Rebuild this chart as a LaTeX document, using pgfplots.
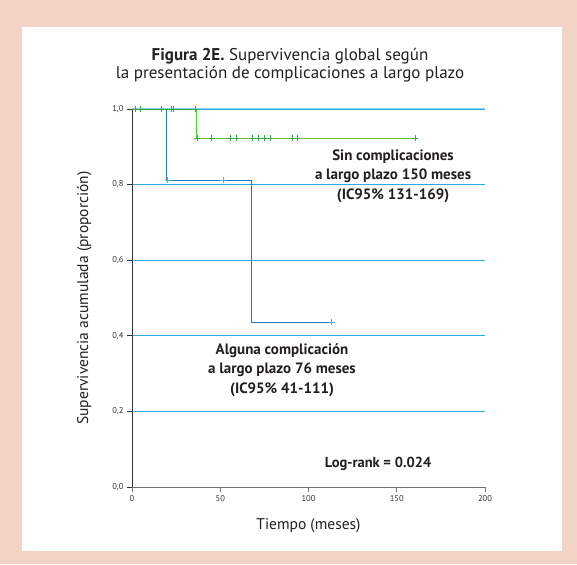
\documentclass[border=0pt]{standalone}
\usepackage{pgfplots}
\pgfplotsset{compat=1.18}
\usepackage{fontspec}
\setmainfont{PT Sans}
\definecolor{framepink}{HTML}{F2D4C7}
\definecolor{gridblue}{HTML}{2EAAE0}
\definecolor{toplight}{HTML}{8CCFEE}
\definecolor{curveblue}{HTML}{1F78C1}
\definecolor{markblue}{HTML}{4DB0E8}
\definecolor{greenline}{HTML}{76C043}
\definecolor{greendark}{HTML}{3FA04A}
\definecolor{greenmark}{HTML}{39A849}
\definecolor{txt}{HTML}{231F20}
\begin{document}
\begin{tikzpicture}[x=1pt,y=1pt]
\fill[framepink] (0,0) rectangle (577,564);
\fill[white] (22,13) rectangle (562,537);
\node[align=center, font=\fontsize{17}{18.5}\selectfont, text=txt] at (290,499)
  {\textbf{Figura 2E.} Supervivencia global según\\la presentación de complicaciones a largo plazo};
\begin{axis}[
  at={(132pt,77pt)}, anchor=south west,
  scale only axis, width=353pt, height=378pt,
  xmin=0, xmax=200, ymin=0, ymax=1,
  clip=false,
  axis x line*=bottom, axis y line*=left,
  x axis line style={draw=black!55, line width=1pt},
  y axis line style={draw=black!80, line width=0.8pt},
  xtick={0,50,100,150,200},
  ytick={0,0.2,0.4,0.6,0.8,1.0},
  tick align=outside,
  major tick length=5pt,
  xtick style={draw=black!55, line width=0.8pt},
  ytick style={draw=black!80, line width=0.6pt},
  ymajorgrids, grid style={gridblue, line width=0.8pt},
  tick label style={font=\fontsize{8.5}{9}\selectfont, text=black!80},
  /pgf/number format/assume math mode=true,
  yticklabel style={/pgf/number format/.cd, fixed, fixed zerofill, precision=1, use comma},
  xlabel={Tiempo (meses)},
  ylabel={Supervivencia acumulada (proporción)},
  label style={font=\fontsize{15.5}{17}\selectfont, text=txt},
  xlabel style={yshift=-10pt},
  ylabel style={yshift=14pt},
]
\draw[toplight, line width=1pt] (axis cs:0,1) -- (axis cs:200,1);
% Alguna complicación
\addplot[const plot, curveblue, line width=0.8pt] coordinates {(0,1) (19.6,0.812) (67.4,0.436) (113.1,0.436)};
\addplot[only marks, mark=+, mark size=3pt, markblue, mark options={line width=0.6pt}] coordinates {(20.2,0.812) (51.7,0.812) (113.1,0.436)};
% Sin complicaciones
\addplot[greendark, line width=0.9pt] coordinates {(0,1) (36.3,1)};
\addplot[green!40!greenline, line width=0.9pt] coordinates {(36.3,1) (36.3,0.923)};
\addplot[greenline, line width=0.9pt] coordinates {(36.3,0.923) (160.3,0.923)};
\addplot[only marks, mark=+, mark size=3pt, greenmark, mark options={line width=0.6pt}] coordinates {
 (1.7,1) (4.9,1) (16.8,1) (22,1) (23.2,1) (35.7,1)
 (37,0.923) (45.1,0.923) (55.5,0.923) (58.9,0.923) (68.4,0.923) (71.6,0.923) (74.8,0.923) (78.2,0.923) (91,0.923) (93.7,0.923) (160.3,0.923)};
\node[align=center, font=\bfseries\fontsize{15}{19.5}\selectfont, text=txt] at (axis cs:147.9,0.823)
  {Sin complicaciones\\a largo plazo 150 meses\\(IC95\% 131-169)};
\node[align=center, font=\bfseries\fontsize{15}{19.5}\selectfont, text=txt] at (axis cs:85,0.31)
  {Alguna complicación\\a largo plazo 76 meses\\(IC95\% 41-111)};
\node[font=\bfseries\fontsize{14.5}{16}\selectfont, text=txt] at (axis cs:139.4,0.061) {Log-rank = 0.024};
\end{axis}
\end{tikzpicture}
\end{document}
